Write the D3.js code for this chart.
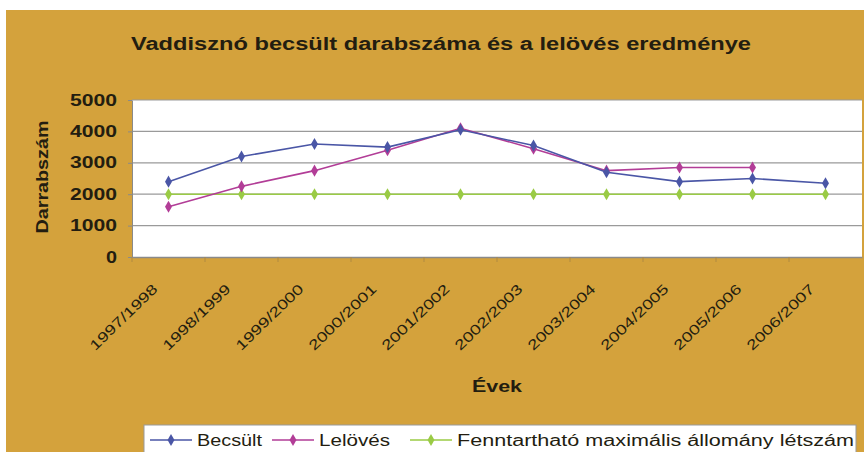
<!DOCTYPE html>
<html>
<head>
<meta charset="utf-8">
<script src="https://cdn.jsdelivr.net/npm/d3@7"></script>
<style>
body { margin: 0; background: #fff; }
text { font-family: Arial, 'Liberation Sans', sans-serif; fill: #231d10; }
</style>
</head>
<body>
<script>
var width = 864,
    height = 452;

// data
var years = ['1997/1998', '1998/1999', '1999/2000', '2000/2001', '2001/2002',
    '2002/2003', '2003/2004', '2004/2005', '2005/2006', '2006/2007'];
var becsult = [2400, 3200, 3600, 3500, 4050, 3550, 2700, 2400, 2500, 2350];
var lelovesek = [1600, 2250, 2750, 3400, 4100, 3450, 2750, 2850, 2850, null];
var fenntarthato = [2000, 2000, 2000, 2000, 2000, 2000, 2000, 2000, 2000, 2000];
var yTicks = [0, 1000, 2000, 3000, 4000, 5000];
var seriesNames = ['Becsült', 'Lelövés', 'Fenntartható maximális állomány létszám'];

var series = [
    { name: seriesNames[0], values: becsult, color: '#4a56a6' },
    { name: seriesNames[1], values: lelovesek, color: '#b23d97' },
    { name: seriesNames[2], values: fenntarthato, color: '#9acb45' }
];

var svg = d3.select('body')
    .append('svg')
    .attr('width', width)
    .attr('height', height);

// gold chart area
svg.append('rect')
    .attr('x', 6)
    .attr('y', 10)
    .attr('width', width - 6)
    .attr('height', height - 10)
    .attr('fill', '#d4a23c');

var plot = { left: 132, right: 862, top: 100, bottom: 257 };

var x = d3.scaleBand()
    .domain(years)
    .range([plot.left, plot.right]);

var y = d3.scaleLinear()
    .domain([0, 5000])
    .range([plot.bottom, plot.top]);

function cx(d) {
    return x(d) + x.bandwidth() / 2;
}

svg.append('rect')
    .attr('x', plot.left)
    .attr('y', plot.top)
    .attr('width', plot.right - plot.left)
    .attr('height', plot.bottom - plot.top)
    .attr('fill', '#fff');

// grid lines
svg.append('g')
    .selectAll('line')
    .data(yTicks.slice(1))
    .enter()
    .append('line')
    .attr('x1', plot.left)
    .attr('x2', plot.right)
    .attr('y1', function (d) { return y(d); })
    .attr('y2', function (d) { return y(d); })
    .attr('stroke', '#9a9a9a')
    .attr('stroke-width', 1.2);

// y axis
var yAxis = svg.append('g')
    .attr('transform', 'translate(' + plot.left + ',0)')
    .call(d3.axisLeft(y).tickValues(yTicks).tickFormat(d3.format('d'))
        .tickSize(4).tickPadding(11).tickSizeOuter(0));
yAxis.select('.domain').attr('stroke', '#8a8a8a');
yAxis.selectAll('.tick line').attr('stroke', '#8a8a8a');
yAxis.selectAll('.tick text')
    .style('font-size', '16px')
    .style('font-weight', 'bold')
    .attr('fill', '#231d10')
    .attr('textLength', function (d) { return d === 0 ? 11 : 47; })
    .attr('lengthAdjust', 'spacingAndGlyphs');

// x axis
var xAxis = svg.append('g')
    .attr('transform', 'translate(0,' + plot.bottom + ')')
    .call(d3.axisBottom(x).tickSize(0).tickFormat(''));
xAxis.select('.domain').attr('stroke', '#8a8a8a').attr('stroke-width', 1.5);

svg.append('g')
    .selectAll('line')
    .data(years)
    .enter()
    .append('line')
    .attr('x1', function (d) { return x(d); })
    .attr('x2', function (d) { return x(d); })
    .attr('y1', plot.bottom)
    .attr('y2', plot.bottom + 5)
    .attr('stroke', '#b08a40');

svg.append('g')
    .selectAll('text')
    .data(years)
    .enter()
    .append('text')
    .attr('transform', function (d) {
        return 'translate(' + (cx(d) - 10) + ',' + (plot.bottom + 33) + ') rotate(-44)';
    })
    .attr('text-anchor', 'end')
    .style('font-size', '14px')
    .attr('textLength', 88)
    .attr('lengthAdjust', 'spacingAndGlyphs')
    .text(function (d) { return d; });

// lines and markers
var line = d3.line()
    .defined(function (d) { return d.v !== null; })
    .x(function (d) { return cx(d.year); })
    .y(function (d) { return y(d.v); });

var diamond = d3.symbol().type(d3.symbolDiamond).size(42);

series.slice().reverse().forEach(function (s) {
    var pts = years.map(function (yr, i) { return { year: yr, v: s.values[i] }; });
    svg.append('path')
        .datum(pts)
        .attr('d', line)
        .attr('fill', 'none')
        .attr('stroke', s.color)
        .attr('stroke-width', 1.6);
    svg.append('g')
        .selectAll('path')
        .data(pts.filter(function (d) { return d.v !== null; }))
        .enter()
        .append('path')
        .attr('d', diamond)
        .attr('transform', function (d) {
            return 'translate(' + cx(d.year) + ',' + y(d.v) + ')';
        })
        .attr('fill', s.color);
});

// titles
svg.append('text')
    .attr('x', 441)
    .attr('y', 50)
    .attr('text-anchor', 'middle')
    .style('font-size', '18px')
    .style('font-weight', 'bold')
    .attr('textLength', 620)
    .attr('lengthAdjust', 'spacingAndGlyphs')
    .text('Vaddisznó becsült darabszáma és a lelövés eredménye');

svg.append('text')
    .attr('x', (plot.left + plot.right) / 2)
    .attr('y', 392)
    .attr('text-anchor', 'middle')
    .style('font-size', '16px')
    .style('font-weight', 'bold')
    .attr('textLength', 50)
    .attr('lengthAdjust', 'spacingAndGlyphs')
    .text('Évek');

svg.append('text')
    .attr('transform', 'translate(48,177) rotate(-90)')
    .attr('text-anchor', 'middle')
    .style('font-size', '16px')
    .style('font-weight', 'bold')
    .attr('textLength', 113)
    .attr('lengthAdjust', 'spacingAndGlyphs')
    .text('Darrabszám');

// legend
var legendX = [150, 272, 410];
var legendTextLen = [65, 71, 397];

svg.append('rect')
    .attr('x', 144)
    .attr('y', 425)
    .attr('width', 712)
    .attr('height', 32)
    .attr('fill', '#fff')
    .attr('stroke', '#999');

var legend = svg.append('g')
    .selectAll('g')
    .data(series)
    .enter()
    .append('g')
    .attr('transform', function (d, i) {
        return 'translate(' + legendX[i] + ',440)';
    });

legend.append('line')
    .attr('x1', 0)
    .attr('x2', 42)
    .attr('stroke', function (d) { return d.color; })
    .attr('stroke-width', 1.6);

legend.append('path')
    .attr('d', diamond)
    .attr('transform', 'translate(21,0)')
    .attr('fill', function (d) { return d.color; });

legend.append('text')
    .attr('x', 47)
    .attr('y', 6)
    .style('font-size', '16px')
    .attr('textLength', function (d, i) { return legendTextLen[i]; })
    .attr('lengthAdjust', 'spacingAndGlyphs')
    .text(function (d) { return d.name; });
</script>
</body>
</html>
